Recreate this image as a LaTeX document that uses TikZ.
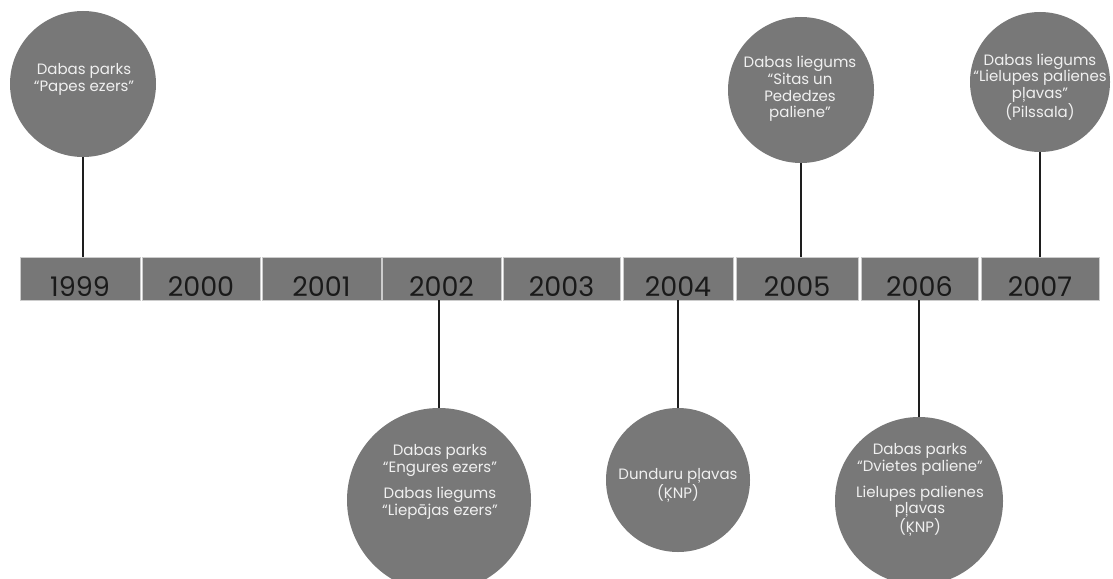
\documentclass[tikz,border=0pt]{standalone}
\usepackage{fontspec}
\setmainfont{Poppins}
\definecolor{boxgray}{HTML}{777777}
\definecolor{circgray}{HTML}{787878}
\definecolor{linedark}{HTML}{1E1E1E}
\definecolor{yeartext}{HTML}{1A1A1A}
\definecolor{ctextcol}{HTML}{F0F0F0}
\begin{document}
\begin{tikzpicture}[x=1pt,y=-1pt,
  yearbox/.style={fill=boxgray,draw=black!20,line width=0.6pt,inner sep=0pt},
  yearlabel/.style={anchor=base,text=yeartext,font=\fontsize{27}{27}\selectfont,inner sep=0pt},
  circ/.style={circle,fill=circgray,inner sep=0pt},
  ctext/.style={text=ctextcol,align=center,font=\fontsize{15}{16.8}\selectfont,inner sep=0pt},
  stem/.style={draw=linedark,line width=2pt}]
\useasboundingbox (0,0) rectangle (1113,578);
\clip (0,0) rectangle (1113,578);
% year boxes
\foreach \nm/\xa/\xb in {1999/20/140,2000/142/260,2001/262/381,2002/382/501,2003/503/620,2004/623/733,2005/736/858,2006/861/978,2007/981/1099}{
  \path[yearbox] (\xa,257) rectangle (\xb,300);
  \coordinate (b\nm) at ({(\xa+\xb)/2},257);
  \coordinate (s\nm) at ({(\xa+\xb)/2},300);
  \node[yearlabel] (y\nm) at ({(\xa+\xb)/2},296) {\nm};
}
% circles
\node[circ,minimum size=146pt] (c1999) at (83,84) {};
\node[circ,minimum size=184pt] (c2002) at (439,500) {};
\node[circ,minimum size=144pt] (c2004) at (678,480) {};
\node[circ,minimum size=146pt] (c2005) at (801,90) {};
\node[circ,minimum size=168pt] (c2006) at (919,501) {};
\node[circ,minimum size=140pt] (c2007) at (1040,82) {};
% stems
\draw[stem] (c1999.south) -- (c1999.south |- b1999);
\draw[stem] (c2005.south) -- (c2005.south |- b2005);
\draw[stem] (c2007.south) -- (c2007.south |- b2007);
\draw[stem] (c2002.north |- s2002) -- (c2002.north);
\draw[stem] (c2004.north |- s2004) -- (c2004.north);
\draw[stem] (c2006.north |- s2006) -- (c2006.north);
% texts
\node[ctext] (t1999) at (84,79) {Dabas parks\\“Papes ezers”};
\node[ctext] (t2005) at (800,89) {Dabas liegums\\“Sitas un\\Pededzes\\paliene”};
\node[ctext] (t2007) at (1040,87) {Dabas liegums\\“Lielupes palienes\\pļavas”\\(Pilssala)};
\node[ctext] (t2002) at (440,482) {Dabas parks\\“Engures ezers”\\[9pt]Dabas liegums\\“Liepājas ezers”};
\node[ctext] (t2004) at (678,485) {Dunduru pļavas\\(ĶNP)};
\node[ctext] (t2006) at (920,490) {Dabas parks\\“Dvietes paliene”\\[9pt]Lielupes palienes\\pļavas\\(ĶNP)};
\end{tikzpicture}
\end{document}
